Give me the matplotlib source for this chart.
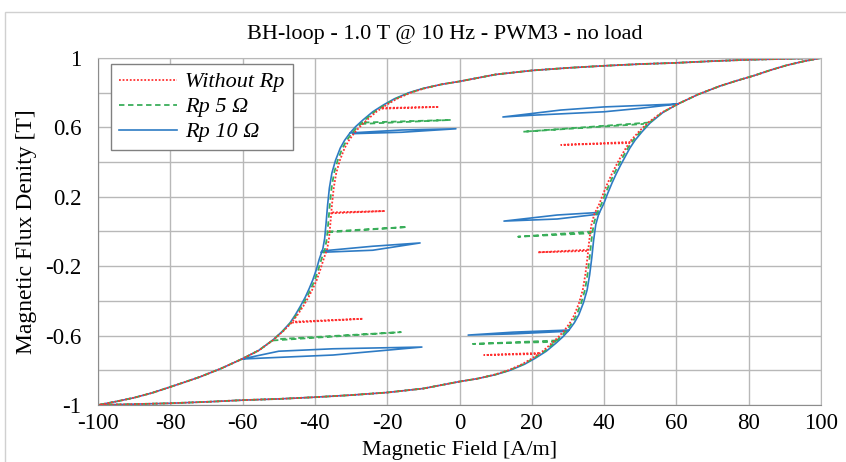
import matplotlib
matplotlib.use("Agg")
import matplotlib.pyplot as plt
from matplotlib.patches import Rectangle
from matplotlib.ticker import MultipleLocator, FixedLocator

plt.rcParams['font.family'] = ['Liberation Serif', 'DejaVu Serif']
plt.rcParams['axes.unicode_minus'] = False

# major loop, descending branch (H from +100 to -100)
B_DESC = [1.0, 0.995, 0.99, 0.982, 0.972, 0.965, 0.955, 0.943, 0.928, 0.905,
          0.865, 0.848, 0.825, 0.80, 0.765, 0.73, 0.69, 0.643, 0.605, 0.568,
          0.525, 0.48, 0.41, 0.337, 0.25, 0.15, 0.05, -0.04, -0.10, -0.16,
          -0.22, -0.28, -0.33, -0.38, -0.43, -0.48, -0.527, -0.575, -0.625, -0.685,
          -0.735, -0.79, -0.838, -0.868, -0.9, -0.93, -0.958, -0.98, -1.0]
H_DESC_10 = [100, 90, 80, 70, 60, 50, 40, 30, 20, 10,
             0, -5, -10, -14, -18, -21, -24, -26.7, -28.7, -30.3,
             -31.8, -33, -34.3, -35.3, -36.0, -36.5, -36.9, -37.3, -37.8, -38.8,
             -39.6, -40.6, -41.6, -42.7, -44.0, -45.4, -46.9, -49, -51.6, -55.5,
             -60.2, -66, -71.8, -76, -80.6, -85, -90, -95, -100]
H_DESC_5 = [100, 90, 80, 70, 60, 50, 40, 30, 20, 10,
            0, -5, -9.85, -13.75, -17.65, -20.6, -23.5, -26.15, -28.1, -29.7,
            -31.2, -32.4, -33.7, -34.7, -35.4, -35.9, -36.3, -36.7, -37.2, -38.2,
            -39.05, -40.05, -41.1, -42.25, -43.6, -45.1, -46.7, -48.9, -51.55, -55.5,
            -60.2, -66, -71.8, -76, -80.6, -85, -90, -95, -100]
H_DESC_0 = [100, 90, 80, 70, 60, 50, 40, 30, 20, 10,
            0, -5, -9.7, -13.5, -17.3, -20.2, -23.0, -25.6, -27.5, -29.1,
            -30.6, -31.8, -33.1, -34.1, -34.8, -35.3, -35.7, -36.1, -36.6, -37.6,
            -38.5, -39.5, -40.6, -41.8, -43.2, -44.8, -46.5, -48.8, -51.5, -55.5,
            -60.2, -66, -71.8, -76, -80.6, -85, -90, -95, -100]

# major loop, ascending branch (H from -100 to +100)
B_ASC = [-1.0, -0.995, -0.99, -0.982, -0.972, -0.965, -0.955, -0.943, -0.928, -0.905,
         -0.865, -0.848, -0.825, -0.80, -0.765, -0.73, -0.69, -0.643, -0.605, -0.568,
         -0.525, -0.48, -0.41, -0.337, -0.25, -0.15, -0.05, 0.04, 0.10, 0.16,
         0.22, 0.28, 0.33, 0.38, 0.43, 0.48, 0.527, 0.575, 0.625, 0.685,
         0.735, 0.79, 0.838, 0.868, 0.9, 0.93, 0.958, 0.98, 1.0]
H_ASC_10 = [-100, -90, -80, -70, -60, -50, -40, -30, -20, -10,
            0, 5, 10, 14, 18, 21, 24, 26.7, 28.7, 30.3,
            31.8, 33, 34.3, 35.3, 36.0, 36.6, 37.1, 37.7, 38.5, 39.9,
            41.0, 42.2, 43.3, 44.5, 45.8, 47.1, 48.6, 50.5, 52.7, 56.2,
            60.4, 66, 72, 76.5, 81.7, 86, 90.5, 95, 100]
H_ASC_5 = [-100, -90, -80, -70, -60, -50, -40, -30, -20, -10,
           0, 5, 9.85, 13.75, 17.65, 20.6, 23.5, 26.15, 28.1, 29.7,
           31.2, 32.4, 33.7, 34.7, 35.4, 36.0, 36.5, 37.1, 37.9, 39.3,
           40.4, 41.6, 42.7, 43.9, 45.2, 46.55, 48.05, 50.05, 52.35, 56.05,
           60.4, 66, 72, 76.5, 81.7, 86, 90.5, 95, 100]
H_ASC_0 = [-100, -90, -80, -70, -60, -50, -40, -30, -20, -10,
           0, 5, 9.7, 13.5, 17.3, 20.2, 23.0, 25.6, 27.5, 29.1,
           30.6, 31.8, 33.1, 34.1, 34.8, 35.4, 35.9, 36.5, 37.3, 38.7,
           39.8, 41.0, 42.1, 43.3, 44.6, 46.0, 47.5, 49.6, 52.0, 55.9,
           60.4, 66, 72, 76.5, 81.7, 86, 90.5, 95, 100]

# minor loops (H list, B list) per series
LOOPS_10 = [
    ([-30.3, -16, -1.0, -16, -29.5], [0.568, 0.585, 0.592, 0.572, 0.564]),
    ([-38.0, -24, -10.9, -24, -38.3], [-0.112, -0.085, -0.066, -0.108, -0.12]),
    ([-60.2, -50, -35, -10.4, -35, -55, -60.2], [-0.735, -0.69, -0.676, -0.666, -0.712, -0.73, -0.735]),
    ([60.4, 40, 28, 12.0, 20, 40, 50, 60.4], [0.735, 0.718, 0.70, 0.66, 0.67, 0.69, 0.71, 0.735]),
    ([38.7, 27, 12.3, 27, 38.5], [0.11, 0.095, 0.06, 0.072, 0.10]),
    ([30.3, 15, 2.4, 15, 30.0], [-0.568, -0.58, -0.597, -0.59, -0.575]),
]
LOOPS_5 = [
    ([-27.3, -2.4, -26.8], [0.62, 0.643, 0.628]),
    ([-36.5, -14.5, -36.0], [-0.005, 0.026, 0.0]),
    ([-51.6, -16.2, -50.0], [-0.628, -0.58, -0.62]),
    ([52.4, 17.6, 51.0], [0.628, 0.575, 0.62]),
    ([36.8, 16.2, 36.5], [0.0, -0.03, -0.01]),
    ([26.9, 3.7, 26.6], [-0.628, -0.648, -0.636]),
]
LOOPS_0 = [
    ([-21.5, -5.7, -21.5], [0.708, 0.718, 0.712]),
    ([-35.5, -20.6, -35.2], [0.105, 0.118, 0.11]),
    ([-46.3, -26.7, -45.8], [-0.525, -0.503, -0.52]),
    ([47.3, 28.1, 47.0], [0.516, 0.499, 0.51]),
    ([35.6, 21.7, 35.3], [-0.105, -0.12, -0.112]),
    ([22.0, 6.8, 21.7], [-0.70, -0.712, -0.706]),
]

LABELS = ["Without Rp", "Rp 5 \u03a9", "Rp 10 \u03a9"]
X_TICKS = [-100, -80, -60, -40, -20, 0, 20, 40, 60, 80, 100]
Y_TICKS = [-1, -0.6, -0.2, 0.2, 0.6, 1]
Y_TICK_LABELS = ["-1", "-0.6", "-0.2", "0.2", "0.6", "1"]

fig = plt.figure(figsize=(8.46, 4.62), dpi=100)
ax = fig.add_axes([98 / 846, 1 - 405 / 462, (821 - 98) / 846, (405 - 58) / 462])

# light frame around the chart area
fig.patches.append(Rectangle((5 / 846, -0.1), 1.2, 1 - 12 / 462 + 0.1, transform=fig.transFigure,
                             fill=False, edgecolor='#d0d0d0', linewidth=1.0))

series = [
    (H_DESC_10, H_ASC_10, LOOPS_10, '#2e7bc4', '-', 1.2, LABELS[2]),
    (H_DESC_5, H_ASC_5, LOOPS_5, '#3aae5a', (0, (3, 2)), 1.3, LABELS[1]),
    (H_DESC_0, H_ASC_0, LOOPS_0, '#ff3030', (0, (1, 1)), 1.3, LABELS[0]),
]
handles = {}
for h_desc, h_asc, loops, col, ls, lw, lab in series:
    ln, = ax.plot(h_desc, B_DESC, color=col, linestyle=ls, linewidth=lw, label=lab)
    ax.plot(h_asc, B_ASC, color=col, linestyle=ls, linewidth=lw)
    for lh, lb in loops:
        ax.plot(lh, lb, color=col, linestyle=ls, linewidth=lw)
    handles[lab] = ln

ax.set_xlim(-100, 100)
ax.set_ylim(-1, 1)
ax.xaxis.set_major_locator(FixedLocator(X_TICKS))
ax.yaxis.set_major_locator(FixedLocator(Y_TICKS))
ax.set_yticklabels(Y_TICK_LABELS)
ax.yaxis.set_minor_locator(MultipleLocator(0.2))
ax.grid(True, which='both', color='#b8b8b8', linewidth=1.0)
ax.set_axisbelow(True)
ax.tick_params(which='both', length=0, labelsize=16.5)
ax.tick_params(axis='x', pad=6)
ax.tick_params(axis='y', pad=12)
for side in ['top', 'right']:
    ax.spines[side].set_color('#b8b8b8')
for side in ['left', 'bottom']:
    ax.spines[side].set_color('#8c8c8c')

ax.set_xlabel("Magnetic Field [A/m]", fontsize=16, labelpad=5)
ax.set_ylabel("Magnetic Flux Denity [T]", fontsize=17, labelpad=6)
fig.text(445 / 846, 1 - 35 / 462, "BH-loop - 1.0 T @ 10 Hz - PWM3 - no load",
         ha='center', va='center', fontsize=16)

leg = ax.legend([handles[l] for l in LABELS], LABELS, loc='upper left',
                bbox_to_anchor=(13 / 723, 1 - 6 / 347), prop={'style': 'italic', 'size': 16},
                fancybox=False, edgecolor='#808080', framealpha=1.0, borderaxespad=0,
                handlelength=2.6, handletextpad=0.4, labelspacing=0.2, borderpad=0.35)
leg.get_frame().set_linewidth(1.0)

fig.savefig("out.png", dpi=100)
